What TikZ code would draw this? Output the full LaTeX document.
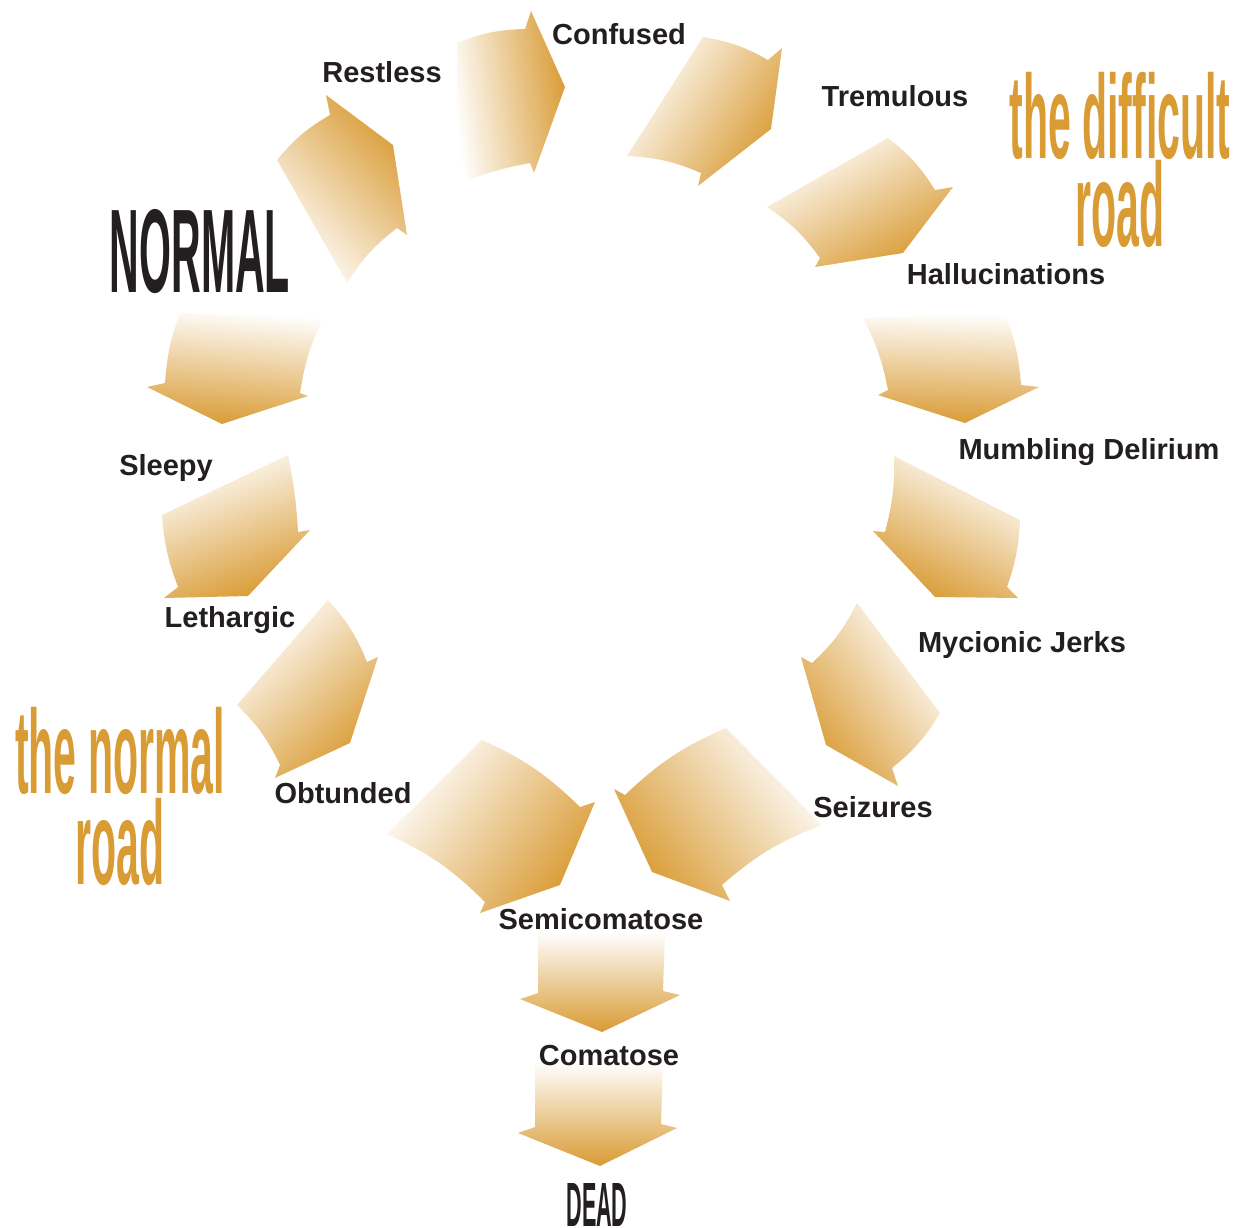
\documentclass[tikz,border=0pt]{standalone}
\usepackage{fontspec}
\newfontfamily\labelfont{Liberation Sans}
\newfontfamily\narrowfont[FakeStretch=0.345]{Liberation Sans}
\definecolor{roadgold}{RGB}{217,155,52}
\definecolor{inkblack}{RGB}{35,31,32}

\begin{document}
\begin{tikzpicture}[x=1pt, y=-1pt, stagearrow/.style={top color=roadgold, bottom color=white, shading angle=#1}, stagelabel/.style={font=\labelfont\bfseries\fontsize{29}{33}\selectfont, text=inkblack, anchor=base, inner sep=0pt}, roadtext/.style={font=\narrowfont\bfseries\fontsize{119}{#1}\selectfont, text=roadgold, align=center, inner sep=0pt}, bigword/.style={font=\narrowfont\bfseries\fontsize{#1}{#1}\selectfont, text=inkblack, anchor=base, inner sep=0pt}]
\useasboundingbox (0,0) rectangle (1243,1227);
\path[stagearrow=-47] (277,160) to[bend left=10] (330,115) -- (326,95) -- (393,145) -- (407,235) -- (397,228) to[bend right=10] (347,283) -- cycle;
\path[stagearrow=-82] (457,43) to[bend left=10] (525,29) -- (531,11) -- (565,87) -- (534,173) -- (530,163) to[bend right=6] (457,185) -- cycle;
\path[stagearrow=-123] (703,37) to[bend left=10] (768,60) -- (782,48) -- (771,129) -- (698,186) -- (701,173) to[bend right=10] (627,156) -- cycle;
\path[stagearrow=-150] (888,138) to[bend left=10] (935,190) -- (953,187) -- (903,253) -- (815,267) -- (820,258) to[bend right=10] (767,207) -- cycle;
\path[stagearrow=178] (1005,313) to[bend left=8] (1021,385) -- (1039,387) -- (965,423) -- (878,395) -- (888,390) to[bend right=8] (863,318) -- cycle;
\path[stagearrow=153] (1020,520) to[bend left=8] (1007,587) -- (1018,598) -- (935,597) -- (873,531) -- (885,532) to[bend right=8] (894,456) -- cycle;
\path[stagearrow=127] (940,713) to[bend left=10] (892,768) -- (898,786) -- (826,745) -- (801,657) -- (812,663) to[bend right=10] (857,603) -- cycle;
\path[stagearrow=128] (822,825) to[bend right=10] (722,885) -- (730,901) -- (652,872) -- (614,789) -- (625,795) to[bend left=10] (726,728) -- cycle;
\path[stagearrow=-128] (482,740) to[bend left=10] (580,807) -- (595,802) -- (560,885) -- (480,913) -- (485,902) to[bend right=10] (387,834) -- cycle;
\path[stagearrow=-137] (328,600) to[bend left=10] (367,662) -- (378,657) -- (350,743) -- (275,778) -- (280,765) to[bend right=10] (237,705) -- cycle;
\path[stagearrow=-160] (288,455) to[bend left=4] (298,532) -- (310,530) -- (248,596) -- (164,598) -- (178,587) to[bend left=8] (162,515) -- cycle;
\path[stagearrow=175] (323,318) to[bend right=8] (300,393) -- (308,396) -- (222,424) -- (147,387) -- (165,383) to[bend left=8] (180,313) -- cycle;
\path[stagearrow=180] (538,932) -- (665,932) -- (663,991) -- (680,995) -- (602,1032) -- (520,999) -- (538,993) -- cycle;
\path[stagearrow=180] (535,1062) -- (663,1062) -- (661,1124) -- (677,1128) -- (600,1166) -- (518,1133) -- (535,1127) -- cycle;
\node[stagelabel] (restless) at (382,82) {Restless};
\node[stagelabel] (confused) at (619,44) {Confused};
\node[stagelabel] (tremulous) at (895,106) {Tremulous};
\node[stagelabel] (halluc) at (1006,284) {Hallucinations};
\node[stagelabel] (mumbling) at (1089,459) {Mumbling Delirium};
\node[stagelabel] (jerks) at (1022,652) {Mycionic Jerks};
\node[stagelabel] (seizures) at (873,817) {Seizures};
\node[stagelabel] (semicoma) at (601,929) {Semicomatose};
\node[stagelabel] (comatose) at (609,1065) {Comatose};
\node[stagelabel] (sleepy) at (166,475) {Sleepy};
\node[stagelabel] (lethargic) at (230,627) {Lethargic};
\node[stagelabel] (obtunded) at (343,803) {Obtunded};
\node[bigword=119] (normal) at (200,292) {NORMAL};
\node[bigword=62.5] (dead) at (597,1226) {DEAD};
\node[roadtext=88] (difficult) at (1120,160) {the difficult\\road};
\node[roadtext=91] (normalroad) at (120,796) {the normal\\road};
\end{tikzpicture}
\end{document}
